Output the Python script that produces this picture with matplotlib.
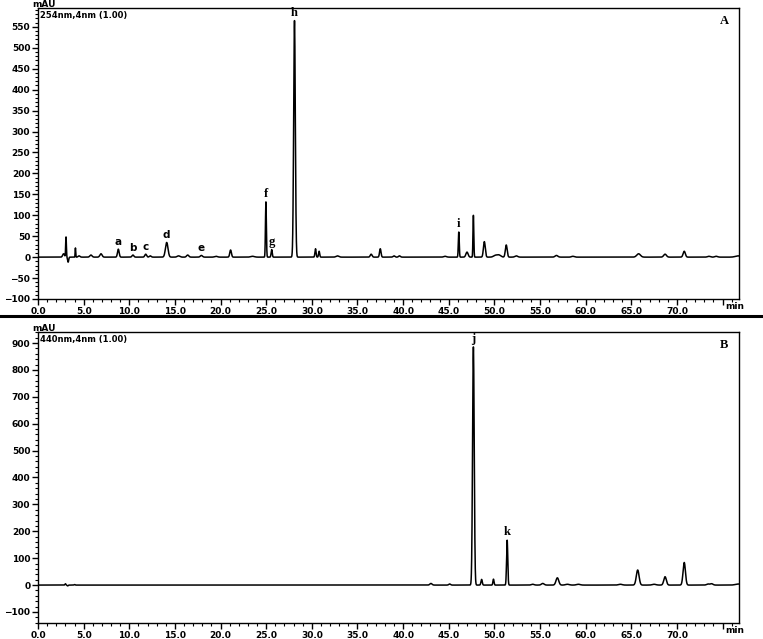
import numpy as np
import matplotlib.pyplot as plt
from matplotlib.lines import Line2D
from matplotlib.ticker import MultipleLocator, FixedLocator

# Panel A (254 nm): retention time (min), peak height (mAU), peak width (min)
a_rt = [2.8, 3.07, 3.3, 4.1, 4.5, 5.8, 6.9, 8.8, 10.4, 11.8, 12.3, 14.1, 15.4, 16.4,
        17.9, 19.5, 21.1, 23.5, 24.97, 25.6, 28.1, 30.4, 30.8, 32.8, 36.5, 37.5, 39.0,
        39.6, 44.6, 46.1, 47.0, 47.7, 48.9, 50.1, 50.5, 51.3, 52.4, 56.8, 58.6, 65.8,
        68.7, 70.8, 73.5, 74.3, 76.7]
a_height = [8, 48, -12, 22, 3, 5, 8, 19, 5, 7, 3, 35, 3, 5,
            4, 2, 17, 2, 132, 18, 565, 20, 14, 3, 7, 20, 3,
            3, 2, 60, 12, 100, 37, 4, 5, 29, 3, 4, 2, 8,
            7, 14, 2, 2, 3]
a_width = [0.1, 0.04, 0.06, 0.03, 0.1, 0.12, 0.12, 0.09, 0.1, 0.1, 0.1, 0.14, 0.15, 0.12,
           0.12, 0.15, 0.09, 0.2, 0.05, 0.06, 0.09, 0.06, 0.06, 0.15, 0.1, 0.08, 0.1,
           0.1, 0.15, 0.05, 0.12, 0.045, 0.1, 0.2, 0.2, 0.1, 0.15, 0.15, 0.15, 0.2,
           0.15, 0.12, 0.15, 0.15, 0.3]
a_tags = ["a", "b", "c", "d", "e", "f", "g", "h", "i"]
a_tag_rt = [8.8, 10.4, 11.8, 14.1, 17.9, 24.97, 25.6, 28.1, 46.1]

# Panel B (440 nm)
b_rt = [3.0, 3.25, 4.0, 43.05, 45.1, 47.7, 48.6, 49.9, 51.4, 54.2, 55.3, 56.9, 58.0,
        59.2, 63.8, 65.7, 67.5, 68.7, 70.8, 73.4, 73.8, 76.7]
b_height = [5, -3, 2, 6, 4, 886, 21, 22, 167, 3, 6, 27, 3,
            3, 3, 56, 3, 31, 84, 4, 5, 4]
b_width = [0.05, 0.05, 0.05, 0.12, 0.1, 0.09, 0.07, 0.06, 0.065, 0.15, 0.15, 0.15, 0.2,
           0.2, 0.2, 0.15, 0.2, 0.14, 0.13, 0.15, 0.15, 0.3]
b_tags = ["j", "k"]
b_tag_rt = [47.7, 51.4]

t = np.linspace(0, 76.8, 12000)


def trace(rt, height, width):
    y = np.zeros_like(t)
    for r, h, w in zip(rt, height, width):
        y += h * np.exp(-0.5 * ((t - r) / w) ** 2)
    return y


fig = plt.figure(figsize=(7.63, 6.39), dpi=100)
ax1 = fig.add_axes([38 / 763, 1 - 299 / 639, 701 / 763, 291 / 639])
ax2 = fig.add_axes([38 / 763, 1 - 623 / 639, 701 / 763, 291 / 639])

panels = [
    (ax1, a_rt, a_height, a_width, a_tags, a_tag_rt, (-100, 595), 50, 10, "254nm,4nm (1.00)", "A"),
    (ax2, b_rt, b_height, b_width, b_tags, b_tag_rt, (-141, 941), 100, 20, "440nm,4nm (1.00)", "B"),
]

for ax, rt, hh, ww, tags, tag_rt, ylim, ymaj, ymin, chan, letter in panels:
    y = trace(rt, hh, ww)
    ax.plot(t, y, color="black", lw=1.1)
    ax.set_xlim(0, 76.8)
    ax.set_ylim(*ylim)
    ax.xaxis.set_major_locator(FixedLocator(np.arange(0, 76, 5)))
    ax.xaxis.set_minor_locator(MultipleLocator(1))
    ax.yaxis.set_major_locator(MultipleLocator(ymaj))
    ax.yaxis.set_minor_locator(MultipleLocator(ymin))
    ax.set_xticklabels(["%.1f" % v for v in np.arange(0, 71, 5)] + [""])
    ax.tick_params(which="major", direction="out", length=4, width=1, pad=1.5,
                   labelsize=6.5)
    ax.tick_params(which="minor", direction="out", length=2, width=0.8)
    for lab in ax.get_xticklabels() + ax.get_yticklabels():
        lab.set_fontweight("bold")
    for sp in ax.spines.values():
        sp.set_linewidth(1.0)
    ax.text(76.3, -0.012, "min", transform=ax.get_xaxis_transform(), ha="center",
            va="top", fontsize=6.5, fontweight="bold")
    ax.annotate("mAU", (-0.008, 1.0), xycoords="axes fraction", xytext=(0, 1),
                textcoords="offset points", ha="left", va="baseline",
                fontsize=6.5, fontweight="bold")
    ax.text(0.003, 0.988, chan, transform=ax.transAxes, ha="left", va="top",
            fontsize=6, fontweight="bold")
    ax.text(0.985, 0.975, letter, transform=ax.transAxes, ha="right", va="top",
            fontsize=9, fontweight="bold", family="Liberation Serif")
    for tag, r in zip(tags, tag_rt):
        near = np.abs(t - r) < 0.15
        top = y[near].max()
        if tag in "abcde":
            fam, size = "DejaVu Sans", 7.5
        else:
            fam, size = "Liberation Serif", 9
        ax.annotate(tag, (r, top), xytext=(0, 1.5), textcoords="offset points",
                    ha="center", va="bottom", fontsize=size, fontweight="bold", family=fam)

fig.add_artist(Line2D([0, 1], [1 - 316 / 639] * 2, color="black", lw=2.2))

fig.savefig("out.png", dpi=100, facecolor="white")
